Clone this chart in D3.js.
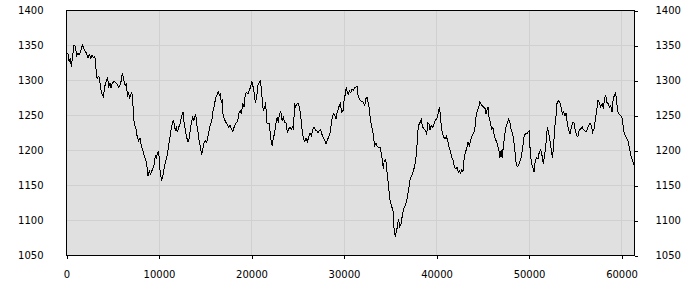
<!DOCTYPE html>
<html><head><meta charset="utf-8">
<script src="https://cdn.jsdelivr.net/npm/d3@7/dist/d3.min.js"></script>
<style>
html,body{margin:0;padding:0;background:#fff;}
svg{display:block;}
text{font-family:"DejaVu Sans",Verdana,sans-serif;font-size:10px;fill:#000;}
</style></head>
<body><svg id="c" width="700" height="300"></svg>
<script>
const xValues = [20,160,300,410,520,630,810,950,1100,1240,1380,1540,1710,1890,2030,2180,2320,2460,2620,2760,2900,3050,3160,3220,3330,3480,3590,3700,3840,3980,4090,4190,4350,4450,4560,4700,4810,4950,5130,5320,5490,5640,5780,5920,6030,6140,6250,6400,6510,6570,6720,6830,6940,7050,7160,7220,7370,7510,7650,7800,7950,8090,8240,8380,8520,8670,8810,8950,9060,9170,9320,9460,9600,9710,9820,9970,10080,10140,10290,10400,10540,10680,10830,10970,11080,11190,11300,11400,11550,11650,11760,11870,11980,12130,12270,12410,12590,12730,12890,13030,13130,13270,13380,13490,13640,13750,13860,13970,14070,14220,14360,14510,14620,14720,14860,15000,15160,15300,15440,15590,15730,15840,15980,16130,16270,16410,16520,16630,16730,16840,16920,17060,17240,17380,17530,17670,17810,17970,18110,18250,18400,18510,18620,18760,18900,19050,19190,19330,19480,19620,19760,19910,20020,20130,20270,20410,20560,20670,20810,20950,21060,21170,21270,21430,21530,21640,21780,21920,22070,22220,22360,22510,22650,22790,22900,23000,23160,23300,23440,23590,23730,23870,24020,24160,24300,24450,24560,24630,24780,24920,25060,25210,25350,25460,25600,25750,25890,26030,26180,26320,26460,26610,26760,26900,27050,27190,27330,27480,27620,27760,27910,28050,28190,28340,28480,28670,28840,28990,29130,29270,29460,29600,29750,29890,30000,30140,30250,30350,30460,30570,30720,30860,31000,31150,31300,31400,31510,31650,31800,31940,32080,32240,32340,32480,32590,32730,32840,32990,33100,33210,33320,33460,33600,33750,33890,34000,34140,34250,34350,34510,34650,34790,34940,35080,35220,35330,35400,35540,35700,35800,35910,36020,36160,36300,36450,36590,36730,36880,37020,37160,37320,37460,37600,37750,37860,37970,38070,38210,38350,38510,38650,38790,38940,39050,39190,39290,39430,39590,39730,39870,40020,40160,40300,40410,40520,40620,40780,40920,41060,41210,41350,41490,41640,41780,41920,42070,42210,42350,42510,42570,42720,42860,42970,43110,43260,43400,43540,43690,43830,43980,44130,44270,44410,44560,44670,44810,44950,45100,45240,45350,45460,45560,45670,45810,45960,46100,46210,46350,46500,46650,46790,46860,46970,47080,47220,47370,47510,47650,47800,47940,48080,48230,48380,48520,48620,48780,48920,49160,49320,49460,49600,49750,49890,50000,50100,50250,50400,50540,50680,50830,50970,51110,51260,51400,51540,51690,51830,51970,52130,52270,52410,52520,52620,52770,52920,53020,53160,53320,53460,53600,53750,53890,54000,54140,54290,54430,54570,54720,54860,55000,55150,55290,55430,55590,55730,55870,56020,56160,56300,56450,56590,56730,56880,57020,57160,57310,57460,57600,57750,57890,58030,58180,58290,58400,58540,58680,58830,58970,59080,59220,59370,59480,59620,59760,59910,60050,60160,60270,60410,60560,60700,60840,60990,61130,61270,61350];
const yValues = [1339,1338,1326,1332,1320,1331,1351,1349,1336,1339,1337,1342,1351,1345,1342,1338,1332,1337,1332,1336,1333,1334,1326,1307,1303,1306,1301,1288,1281,1277,1287,1295,1300,1305,1290,1296,1290,1296,1299,1297,1294,1290,1293,1300,1310,1305,1296,1293,1295,1276,1283,1274,1280,1283,1276,1250,1236,1231,1219,1214,1217,1207,1201,1194,1188,1181,1164,1171,1166,1169,1174,1179,1193,1188,1196,1198,1176,1167,1158,1162,1174,1183,1190,1200,1210,1219,1229,1236,1244,1238,1229,1233,1226,1233,1238,1247,1255,1238,1226,1217,1212,1217,1229,1240,1247,1243,1247,1252,1238,1226,1212,1202,1194,1201,1210,1214,1212,1221,1231,1238,1245,1257,1264,1276,1279,1284,1279,1281,1268,1274,1252,1245,1240,1237,1233,1236,1231,1227,1233,1238,1240,1243,1252,1257,1252,1267,1262,1281,1283,1281,1286,1291,1299,1294,1283,1268,1276,1293,1296,1301,1288,1272,1257,1262,1269,1240,1238,1239,1217,1207,1217,1226,1240,1248,1240,1250,1256,1243,1248,1240,1239,1226,1231,1233,1230,1234,1229,1267,1262,1267,1267,1260,1245,1231,1217,1213,1218,1212,1219,1225,1221,1229,1234,1229,1228,1225,1229,1230,1223,1218,1215,1210,1214,1220,1224,1243,1253,1250,1245,1255,1263,1267,1255,1257,1271,1281,1290,1283,1281,1285,1283,1287,1286,1290,1291,1292,1279,1274,1271,1270,1269,1264,1274,1276,1269,1260,1245,1233,1229,1217,1207,1210,1206,1204,1205,1198,1186,1174,1186,1187,1169,1153,1131,1124,1117,1112,1090,1077,1086,1095,1102,1091,1095,1107,1117,1121,1126,1136,1148,1160,1164,1169,1176,1186,1202,1226,1236,1240,1244,1233,1231,1229,1223,1239,1238,1229,1236,1233,1238,1244,1245,1252,1262,1252,1233,1225,1219,1217,1220,1214,1205,1200,1190,1186,1177,1174,1176,1169,1171,1166,1172,1170,1186,1198,1202,1212,1207,1214,1221,1225,1229,1248,1257,1262,1269,1266,1264,1262,1260,1252,1258,1262,1248,1240,1231,1233,1224,1217,1212,1205,1198,1190,1200,1190,1205,1223,1233,1239,1245,1240,1228,1224,1210,1193,1179,1177,1181,1191,1205,1219,1224,1224,1226,1228,1205,1183,1176,1170,1186,1190,1188,1198,1201,1193,1181,1193,1210,1233,1224,1214,1200,1190,1200,1231,1250,1267,1271,1269,1262,1252,1255,1250,1253,1238,1229,1224,1233,1240,1239,1229,1221,1220,1229,1231,1234,1230,1228,1226,1231,1236,1239,1236,1226,1231,1243,1257,1272,1268,1262,1267,1260,1275,1279,1269,1267,1262,1264,1255,1271,1279,1283,1267,1255,1251,1250,1247,1236,1226,1221,1217,1213,1205,1193,1188,1182,1179];
const xTicks = [0,10000,20000,30000,40000,50000,60000];
const yTicks = [1050,1100,1150,1200,1250,1300,1350,1400];
const xMax = 61400;

const svg = d3.select("#c");
const x = d3.scaleLinear().domain([0, xMax]).range([66.5, 634.5]);
const y = d3.scaleLinear().domain([1050, 1400]).range([255.5, 10.5]);

svg.append("rect").attr("x",66.5).attr("y",10.5).attr("width",568).attr("height",245).attr("fill","#e0e0e0");

const grid = svg.append("g").attr("stroke","#d0d0d0").attr("stroke-width",1).attr("shape-rendering","crispEdges");
grid.selectAll("line.v").data(xTicks.filter(t=>t>0)).enter().append("line")
  .attr("x1",d=>Math.round(x(d)-0.5)+0.5).attr("x2",d=>Math.round(x(d)-0.5)+0.5).attr("y1",10.5).attr("y2",255.5);
grid.selectAll("line.h").data(yTicks.filter(t=>t>1050&&t<1400)).enter().append("line")
  .attr("y1",d=>y(d)).attr("y2",d=>y(d)).attr("x1",66.5).attr("x2",634.5);

const line = d3.line().x((d,i)=>x(xValues[i])).y((d,i)=>y(yValues[i]));
svg.append("path").datum(yValues).attr("d",line).attr("fill","none").attr("stroke","#000").attr("stroke-width",1).attr("shape-rendering","crispEdges");

svg.append("rect").attr("x",66.5).attr("y",10.5).attr("width",568).attr("height",245).attr("fill","none").attr("stroke","#000").attr("shape-rendering","crispEdges");

const xAxis = d3.axisBottom(x).tickValues(xTicks).tickSize(3).tickPadding(12).tickFormat(d3.format("d"));
const gx = svg.append("g").attr("transform","translate(0,255.5)").call(xAxis);
gx.select(".domain").remove();
gx.selectAll("line").attr("shape-rendering","crispEdges");

const yL = d3.axisLeft(y).tickValues(yTicks).tickSize(0).tickPadding(23).tickFormat(d3.format("d"));
const gl = svg.append("g").attr("transform","translate(66.5,0)").call(yL);
gl.select(".domain").remove();

const yR = d3.axisRight(y).tickValues(yTicks).tickSize(3).tickPadding(18).tickFormat(d3.format("d"));
const gr = svg.append("g").attr("transform","translate(634.5,0)").call(yR);
gr.select(".domain").remove();
gr.selectAll("line").attr("shape-rendering","crispEdges");

svg.selectAll(".tick text").attr("font-family","'DejaVu Sans',Verdana,sans-serif").attr("font-size",10).attr("fill","#000");
</script></body></html>
